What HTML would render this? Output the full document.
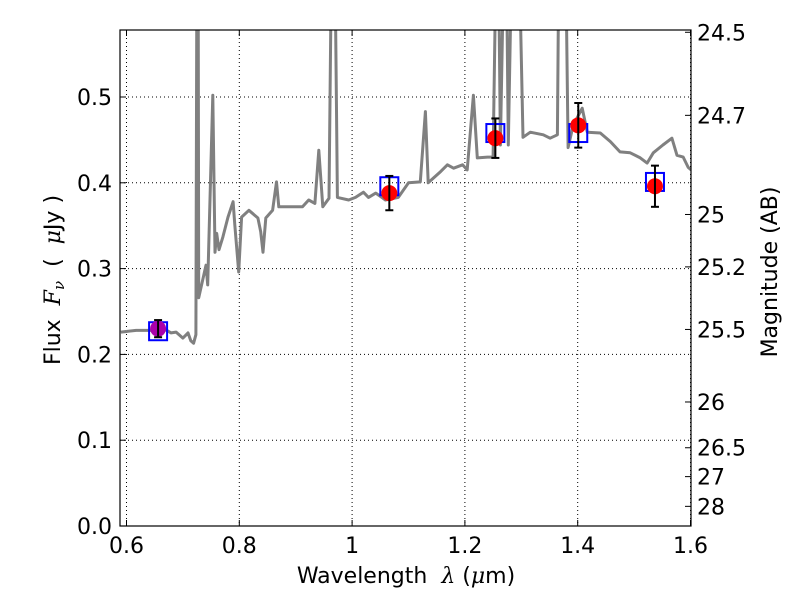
<!DOCTYPE html>
<html><head><meta charset="utf-8"><style>
body{margin:0;background:#fff;}
svg{display:block;font-family:"DejaVu Sans","Liberation Sans",sans-serif;}
.pre{white-space:pre;}
</style></head><body>
<svg id="chart" width="800" height="600" viewBox="0 0 800 600" xmlns="http://www.w3.org/2000/svg"></svg>
<script>
const specLam=[0.590,0.617,0.643,0.661,0.679,0.688,0.700,0.709,0.714,0.719,0.723,0.725,0.727,0.728,0.741,0.744,0.753,0.757,0.760,0.764,0.771,0.780,0.789,0.792,0.799,0.804,0.817,0.833,0.838,0.842,0.847,0.859,0.866,0.870,0.882,0.912,0.923,0.934,0.941,0.948,0.959,0.964,0.969,0.974,0.994,1.006,1.020,1.029,1.042,1.059,1.082,1.100,1.121,1.130,1.135,1.157,1.169,1.180,1.196,1.204,1.215,1.222,1.240,1.250,1.256,1.259,1.263,1.270,1.273,1.277,1.284,1.295,1.303,1.316,1.339,1.351,1.364,1.367,1.378,1.383,1.392,1.408,1.417,1.440,1.458,1.475,1.493,1.511,1.523,1.534,1.551,1.567,1.576,1.587,1.596,1.601];
const specFlux=[0.226,0.228,0.228,0.232,0.225,0.226,0.219,0.225,0.216,0.213,0.223,0.7,0.7,0.266,0.304,0.281,0.502,0.319,0.341,0.322,0.337,0.360,0.378,0.351,0.296,0.360,0.368,0.359,0.343,0.319,0.359,0.368,0.401,0.372,0.372,0.372,0.380,0.376,0.438,0.372,0.382,0.7,0.7,0.383,0.380,0.383,0.389,0.383,0.388,0.380,0.383,0.400,0.401,0.483,0.400,0.413,0.421,0.417,0.421,0.415,0.502,0.429,0.430,0.430,0.7,0.7,0.444,0.7,0.7,0.444,0.7,0.7,0.453,0.459,0.456,0.452,0.456,0.7,0.7,0.441,0.467,0.487,0.459,0.458,0.448,0.436,0.435,0.429,0.423,0.435,0.444,0.452,0.432,0.430,0.418,0.415];
const obsLam=[0.656,1.066,1.254,1.401,1.537];
const obsFlux=[0.230,0.388,0.452,0.467,0.396];
const obsErr=[0.010,0.020,0.023,0.026,0.024];
const obsColor=["#aa00aa","red","red","red","red"];
const modelFlux=[0.227,0.396,0.458,0.458,0.401];
const xTicks=[0.6,0.8,1.0,1.2,1.4,1.6];
const xTickLabels=["0.6","0.8","1","1.2","1.4","1.6"];
const yTicks=[0,0.1,0.2,0.3,0.4,0.5];
const yTickLabels=["0.0","0.1","0.2","0.3","0.4","0.5"];
const magTicks=[24.5,24.7,25,25.2,25.5,26,26.5,27,28];
const magTickLabels=["24.5","24.7","25","25.2","25.5","26","26.5","27","28"];

const L=120,R=691,T=30,B=526;
const x=v=>126.5+(v-0.6)*564;
const y=v=>526-v*858;
const NS="http://www.w3.org/2000/svg";
const svg=document.getElementById('chart');
function mk(tag,attrs,parent){const e=document.createElementNS(NS,tag);for(const k in attrs)e.setAttribute(k,attrs[k]);(parent||svg).appendChild(e);return e;}

const clip=mk('clipPath',{id:'pc'});mk('rect',{x:L,y:T,width:R-L,height:B-T},clip);

xTicks.forEach(v=>{const g=mk('line',{x1:x(v),x2:x(v),y1:T,y2:B,stroke:'#000','stroke-width':1,'stroke-dasharray':'1,3'});

});
yTicks.forEach(v=>{const g=mk('line',{x1:L,x2:R,y1:y(v),y2:y(v),stroke:'#000','stroke-width':1,'stroke-dasharray':'1,3'});

});

const pts=specLam.map((l,i)=>x(l).toFixed(1)+','+y(specFlux[i]).toFixed(1)).join(' ');
const sp=mk('polyline',{points:pts,fill:'none',stroke:'#808080','stroke-width':3,'stroke-linejoin':'round','clip-path':'url(#pc)'});



obsLam.forEach((l,i)=>{const b=mk('rect',{x:x(l)-9,y:y(modelFlux[i])-9,width:18,height:18,fill:'none',stroke:'blue','stroke-width':2});

});
obsLam.forEach((l,i)=>{const c=mk('circle',{cx:x(l),cy:y(obsFlux[i]),r:8,fill:obsColor[i]});


const g=mk('g',{stroke:'#000','stroke-width':2});


const y1=y(obsFlux[i]+obsErr[i]),y2=y(obsFlux[i]-obsErr[i]),cx=x(l);
mk('line',{x1:cx,x2:cx,y1:y1,y2:y2},g);mk('line',{x1:cx-4,x2:cx+4,y1:y1,y2:y1},g);mk('line',{x1:cx-4,x2:cx+4,y1:y2,y2:y2},g);});

const fr=mk('rect',{x:L,y:T,width:R-L,height:B-T,fill:'none',stroke:'#000','stroke-width':1.2});



xTicks.forEach((v,i)=>{mk('line',{x1:x(v),x2:x(v),y1:B,y2:B-6,stroke:'#000'});mk('line',{x1:x(v),x2:x(v),y1:T,y2:T+6,stroke:'#000'});
const t=mk('text',{x:x(v),y:B+27,'font-size':22,'text-anchor':'middle'});t.textContent=xTickLabels[i];

});
yTicks.forEach((v,i)=>{mk('line',{x1:L,x2:L+6,y1:y(v),y2:y(v),stroke:'#000'});
const t=mk('text',{x:L-8,y:y(v)+8,'font-size':22,'text-anchor':'end'});t.textContent=yTickLabels[i];

});
magTicks.forEach((m,i)=>{const f=Math.pow(10,(23.9-m)/2.5);const py=y(f);
mk('line',{x1:R,x2:R-6,y1:py,y2:py,stroke:'#000'});
const t=mk('text',{x:R+6,y:py+8,'font-size':22});t.textContent=magTickLabels[i];

});

const xt=mk('text',{x:406,y:583,'font-size':22,'text-anchor':'middle','class':'pre'});
xt.innerHTML='Wavelength  <tspan font-style="italic" font-family="DejaVu Serif,serif">λ</tspan> (<tspan font-style="italic" font-family="DejaVu Serif,serif">μ</tspan>m)';


const yt=mk('text',{transform:'translate(60,280) rotate(-90)','font-size':22,'text-anchor':'middle','class':'pre'});
yt.innerHTML='Flux  <tspan font-style="italic" font-family="DejaVu Serif,serif">F<tspan font-size="15" dy="4">ν</tspan></tspan><tspan dy="-4">  (  </tspan><tspan font-style="italic" font-family="DejaVu Serif,serif">μ</tspan>Jy )';


const rt=mk('text',{transform:'translate(777,272) rotate(-90)','font-size':22,'text-anchor':'middle'});
rt.textContent='Magnitude (AB)';


</script>
</body></html>
